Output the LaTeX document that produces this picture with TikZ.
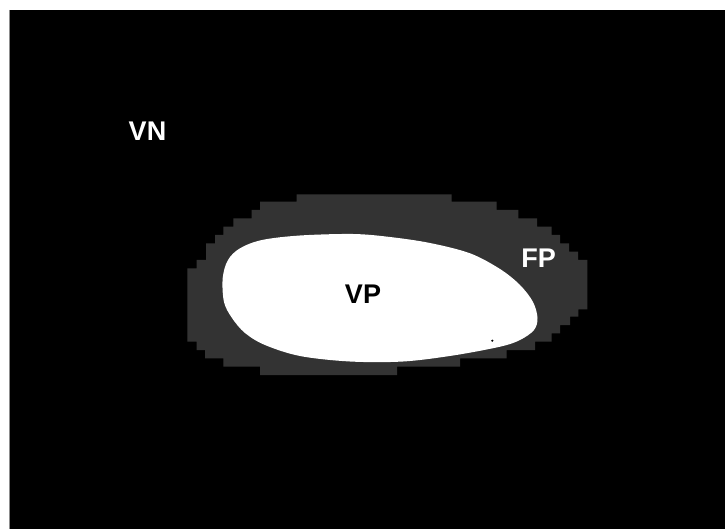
\documentclass[tikz,border=0pt]{standalone}
\usepackage{fontspec}
\setmainfont{Liberation Sans}
\definecolor{fpgray}{HTML}{333333}
\definecolor{edgegray}{HTML}{8C8C8C}
\begin{document}
\begin{tikzpicture}[x=1pt,y=-1pt,
  region/.style={font=\bfseries\fontsize{27}{27}\selectfont, inner sep=0pt},
  onblack/.style={region, text=white},
  onwhite/.style={region, text=black}]
  \useasboundingbox (0,0) rectangle (725,529);
  % canvas
  \fill[white] (0,0) rectangle (725,529);
  \fill[black] (10,10) rectangle (725,529);
  \draw[edgegray, line width=1.2pt] (9.6,10) -- (9.6,529);
  % pixelated outer band
  \fill[fpgray]
    (296.7,194.3) -- (451.7,194.3) -- (451.7,201.7) -- (496.7,201.7) -- (496.7,210)
    -- (518.3,210) -- (518.3,218.3) -- (537,218.3) -- (537,226.7) -- (551.7,226.7)
    -- (551.7,235) -- (560,235) -- (560,243.3) -- (569,243.3) -- (569,251.7)
    -- (578,251.7) -- (578,260) -- (587.3,260) -- (587.3,309.3) -- (578.3,309.3)
    -- (578.3,316.7) -- (570,316.7) -- (570,325) -- (560,325) -- (560,333.3)
    -- (551.7,333.3) -- (551.7,341.7) -- (535,341.7) -- (535,350) -- (506.7,350)
    -- (506.7,358.3) -- (460,358.3) -- (460,366.7) -- (397,366.7) -- (397,375)
    -- (260,375) -- (260,366.7) -- (223.3,366.7) -- (223.3,358.3) -- (205,358.3)
    -- (205,350) -- (196.7,350) -- (196.7,341.7) -- (187.3,341.7) -- (187.3,268.3)
    -- (196.7,268.3) -- (196.7,260) -- (206,260) -- (206,243.3) -- (215,243.3)
    -- (215,235) -- (223.3,235) -- (223.3,226.7) -- (233.3,226.7) -- (233.3,218.3)
    -- (251.7,218.3) -- (251.7,210) -- (260,210) -- (260,201.7) -- (296.7,201.7) -- cycle;
  % inner white blob
  \fill[white] plot[smooth cycle, tension=0.55] coordinates {
    (222.7,278) (224,302) (232,318) (245,333) (265,345) (300,356) (350,361.5)
    (403,361.5) (453,355.5) (500,346.7) (520,340) (534,330) (537.5,318)
    (533,302) (520,285) (500,269) (470,253.3) (430,243) (390,237) (353,234)
    (300,235.5) (262,240) (240,248.3) (228,260)};
  \fill[black] (492.3,340.7) circle (1.2);
  % labels
  \node[onblack] (vn) at (147.5,131.2) {VN};
  \node[onwhite] (vp) at (363,294.4) {VP};
  \node[onblack] (fp) at (538.7,258.3) {FP};
\end{tikzpicture}
\end{document}
